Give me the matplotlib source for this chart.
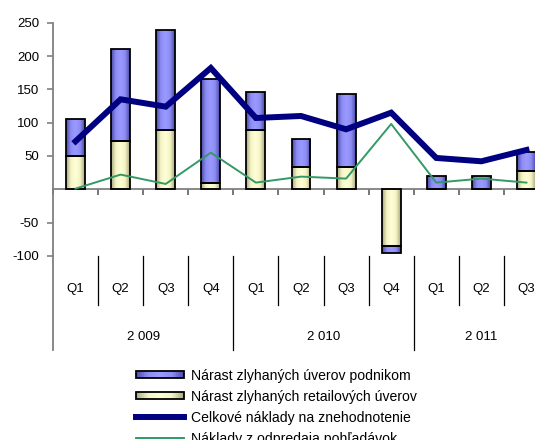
import matplotlib
matplotlib.use("Agg")
import matplotlib.pyplot as plt
import numpy as np
from matplotlib.colors import LinearSegmentedColormap
from matplotlib.patches import Rectangle
from matplotlib.lines import Line2D
import matplotlib.transforms as mtransforms

quarters = ["Q1", "Q2", "Q3", "Q4", "Q1", "Q2", "Q3", "Q4", "Q1", "Q2", "Q3"]
years = ["2 009", "2 010", "2 011"]
year_counts = [4, 4, 3]

retail = [50, 73, 89, 10, 89, 33, 33, -85, 1, 1, 28]
corporate = [56, 137, 150, 155, 57, 43, 110, -10, 19, 19, 28]
total_costs = [72, 135, 124, 182, 107, 110, 90, 115, 47, 42, 59]
sale_costs = [1, 22, 8, 55, 10, 19, 16, 98, 10, 16, 10]

labels = ["Nárast zlyhaných úverov podnikom",
          "Nárast zlyhaných retailových úverov",
          "Celkové náklady na znehodnotenie",
          "Náklady z odpredaja pohľadávok"]

plt.rcParams['font.family'] = ['Liberation Sans', 'DejaVu Sans']
FS = 9.5
LFS = 10.1

fig = plt.figure(figsize=(5.35, 4.4), dpi=100)
W, H = 535, 440
ax_left, ax_right = 53, 549
ax_top, ax_bottom = 22.7, 255.9
ax = fig.add_axes([ax_left / W, 1 - ax_bottom / H, (ax_right - ax_left) / W, (ax_bottom - ax_top) / H])

x = np.arange(len(quarters))
bw = 0.42

blue_cmap = LinearSegmentedColormap.from_list("b", ["#4a4aa8", "#8c8cf4", "#9a9aff", "#8c8cf4", "#4a4aa8"])
yel_cmap = LinearSegmentedColormap.from_list("y", ["#a8a880", "#f4f4c4", "#ffffd8", "#f4f4c4", "#a8a880"])
grad = np.linspace(0, 1, 64).reshape(1, -1)

retail_arr = np.array(retail, dtype=float)
corp_arr = np.array(corporate, dtype=float)
bottom_corp = np.where(corp_arr >= 0, np.maximum(retail_arr, 0), np.minimum(retail_arr, 0))

b1 = ax.bar(x, retail_arr, bw, color="#ffffd0", edgecolor="black", linewidth=1.3, zorder=3)
b2 = ax.bar(x, corp_arr, bw, bottom=bottom_corp, color="#9090f0", edgecolor="black", linewidth=1.3, zorder=3)

for bars, cmap in ((b1, yel_cmap), (b2, blue_cmap)):
    for r in bars:
        x0, y0 = r.get_x(), r.get_y()
        w, h = r.get_width(), r.get_height()
        if h == 0:
            continue
        im = ax.imshow(grad, extent=[x0, x0 + w, min(y0, y0 + h), max(y0, y0 + h)],
                       aspect='auto', cmap=cmap, zorder=2.5, interpolation='bilinear')
        im.set_clip_path(r)
        r.set_facecolor('none')

ax.plot(x, total_costs, color="#000080", linewidth=4.3, zorder=5, solid_joinstyle='miter')
ax.plot(x, sale_costs, color="#339966", linewidth=1.4, zorder=6)

ax.set_xlim(-0.5, len(quarters) - 0.5)
ax.set_ylim(-100, 250)
ax.set_yticks([-100, -50, 50, 100, 150, 200, 250])
ax.set_yticklabels(["-100", "-50", "50", "100", "150", "200", "250"])

for s in ("top", "right"):
    ax.spines[s].set_visible(False)
ax.spines["left"].set_color("#808080")
ax.spines["left"].set_linewidth(1.3)
ax.spines["bottom"].set_position(("data", 0))
ax.spines["bottom"].set_color("#808080")
ax.spines["bottom"].set_linewidth(1.3)
ax.set_xticks(np.arange(len(quarters) + 1) - 0.5)
ax.set_xticklabels([])
ax.tick_params(axis='x', direction='out', length=4, width=1.2, color="#606060")
ax.tick_params(axis='y', direction='out', length=4, width=1.2, color="#808080", pad=6, labelsize=FS)
ax.patch.set_alpha(0)

trans = mtransforms.blended_transform_factory(ax.transData, ax.transAxes)
q_y = -0.14
yr_y = -0.348
for i, q in enumerate(quarters):
    ax.text(i, q_y, q, transform=trans, ha='center', va='center', fontsize=FS, clip_on=False)

# separators
boundaries = np.arange(1, len(quarters)) - 0.5
year_bounds = np.cumsum(year_counts)[:-1] - 0.5
for bnd in boundaries:
    if bnd in year_bounds:
        ax.add_line(Line2D([bnd, bnd], [0, -0.403], transform=trans, color="black", lw=0.9, clip_on=False))
    else:
        ax.add_line(Line2D([bnd, bnd], [0, -0.21], transform=trans, color="black", lw=0.9, clip_on=False))
ax.add_line(Line2D([-0.5, -0.5], [0, -0.403], transform=trans, color="#808080", lw=1.3, clip_on=False))

start = 0
for yr, c in zip(years, year_counts):
    ax.text(start + c / 2 - 0.5, yr_y, yr, transform=trans, ha='center', va='center', fontsize=FS, clip_on=False)
    start += c

# legend
class GradHandler:
    def __init__(self, cmap):
        self.cmap = cmap
    def legend_artist(self, legend, orig_handle, fontsize, handlebox):
        x0, y0 = handlebox.xdescent, handlebox.ydescent
        w, h = handlebox.width, handlebox.height
        n = 24
        for k in range(n):
            c = self.cmap((k + 0.5) / n)
            p = Rectangle([x0 + w * k / n, y0 + h * 0.15], w / n, h * 0.7, facecolor=c,
                          edgecolor='none', transform=handlebox.get_transform())
            handlebox.add_artist(p)
        edge = Rectangle([x0, y0 + h * 0.15], w, h * 0.7, facecolor='none', edgecolor='black', lw=1.3,
                         transform=handlebox.get_transform())
        handlebox.add_artist(edge)
        return edge

h_blue = Rectangle((0, 0), 1, 1, label=labels[0])
h_yel = Rectangle((0, 0), 1, 1, label=labels[1])
h_tot = Line2D([], [], color="#000080", lw=4.3, label=labels[2])
h_sale = Line2D([], [], color="#339966", lw=1.4, label=labels[3])

leg = fig.legend(handles=[h_blue, h_yel, h_tot, h_sale], labels=labels,
                 handler_map={h_blue: GradHandler(blue_cmap), h_yel: GradHandler(yel_cmap)},
                 loc='upper left', bbox_to_anchor=(136 / W, 1 - 368.5 / H), frameon=False,
                 fontsize=LFS, handlelength=3.4, handleheight=0.7, handletextpad=0.5,
                 labelspacing=0.5, borderpad=0, borderaxespad=0)

fig.savefig("out.png", dpi=100)
